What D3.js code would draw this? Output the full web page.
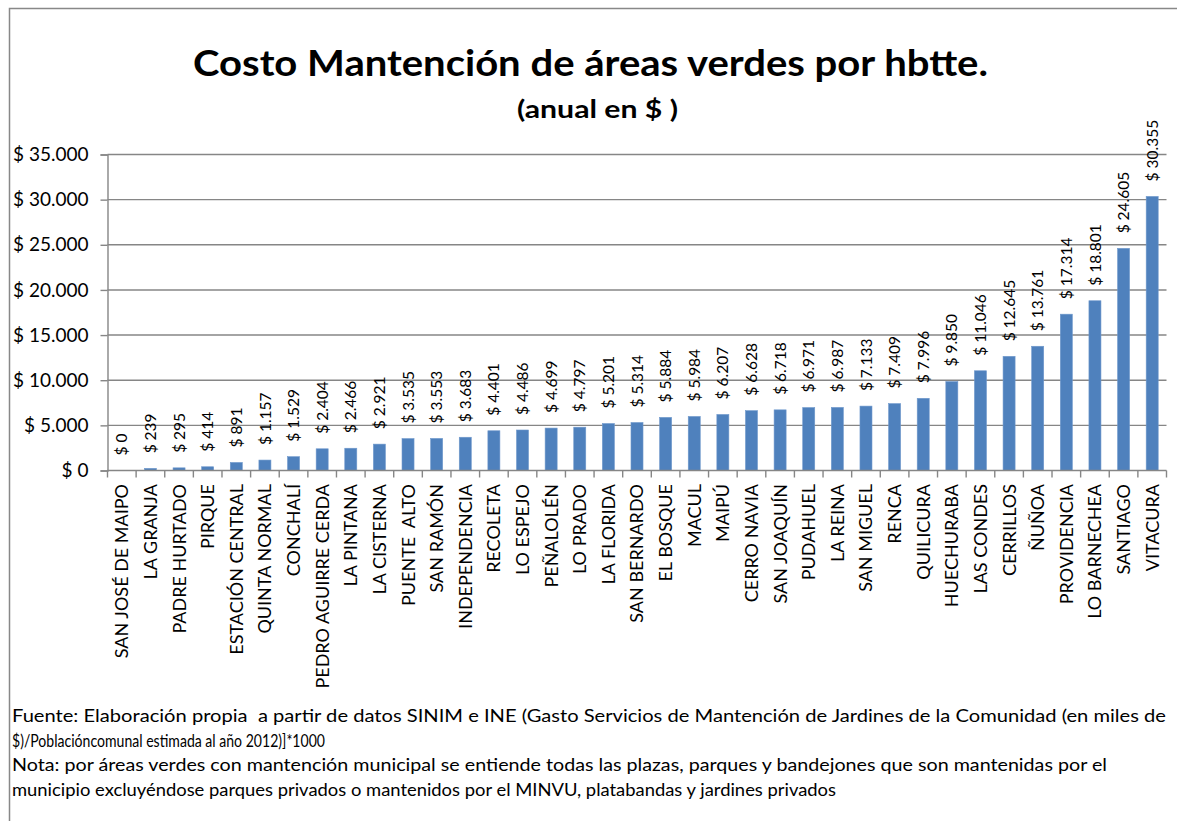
<!DOCTYPE html>
<html><head><meta charset="utf-8">
<script src="https://cdn.jsdelivr.net/npm/d3@7"></script>
<style>body{margin:0;background:#fff}svg{display:block}</style>
</head><body>
<script>
const categories = ["SAN JOSÉ DE MAIPO","LA GRANJA","PADRE HURTADO","PIRQUE","ESTACIÓN CENTRAL","QUINTA NORMAL","CONCHALÍ","PEDRO AGUIRRE CERDA","LA PINTANA","LA CISTERNA","PUENTE  ALTO","SAN RAMÓN","INDEPENDENCIA","RECOLETA","LO ESPEJO","PEÑALOLÉN","LO PRADO","LA FLORIDA","SAN BERNARDO","EL BOSQUE","MACUL","MAIPÚ","CERRO NAVIA","SAN JOAQUÍN","PUDAHUEL","LA REINA","SAN MIGUEL","RENCA","QUILICURA","HUECHURABA","LAS CONDES","CERRILLOS","ÑUÑOA","PROVIDENCIA","LO BARNECHEA","SANTIAGO","VITACURA"];
const values = [0,239,295,414,891,1157,1529,2404,2466,2921,3535,3553,3683,4401,4486,4699,4797,5201,5314,5884,5984,6207,6628,6718,6971,6987,7133,7409,7996,9850,11046,12645,13761,17314,18801,24605,30355];
const yTicks = [0,5000,10000,15000,20000,25000,30000,35000];
const title = "Costo Mantención de áreas verdes por hbtte.";
const subtitle = "(anual en $ )";
const notes = [
 "Fuente: Elaboración propia  a partir de datos SINIM e INE (Gasto Servicios de Mantención de Jardines de la Comunidad (en miles de",
 "$)/Poblacióncomunal estimada al año 2012)]*1000",
 "Nota: por áreas verdes con mantención municipal se entiende todas las plazas, parques y bandejones que son mantenidas por el",
 "municipio excluyéndose parques privados o mantenidos por el MINVU, platabandas y jardines privados"
];
const noteWidths = [1154, 313, 1095, 824];

const W = 1177, H = 821;
const svg = d3.select("body").append("svg").attr("width", W).attr("height", H)
  .style("font-family", "Lato, 'Open Sans', sans-serif");

// border (left + top)
svg.append("path").attr("d", `M9.5,${H} L9.5,8.5 L${W},8.5`).attr("fill","none").attr("stroke","#888").attr("stroke-width",1.5);

const fmt = v => "$ " + d3.format(",")(v).replace(/,/g, ".");

const x = d3.scaleBand().domain(categories).range([107.5, 1166.5]).paddingInner(0.58).paddingOuter(0.29);
const y = d3.scaleLinear().domain([0, 35000]).range([470.5, 154.5]);

// gridlines
svg.append("g").selectAll("line").data(yTicks.filter(d => d > 0)).join("line")
  .attr("x1", 107.5).attr("x2", 1166.5).attr("y1", d => y(d)).attr("y2", d => y(d))
  .attr("stroke", "#868686").attr("stroke-width", 1.4);

// y axis
const yAxis = svg.append("g").attr("transform", "translate(107.5,0)")
  .call(d3.axisLeft(y).tickValues(yTicks).tickFormat(fmt).tickSize(7).tickPadding(12));
yAxis.select(".domain").attr("stroke", "#868686").attr("stroke-width", 1.4);
yAxis.selectAll(".tick line").attr("stroke", "#868686").attr("stroke-width", 1.4);
yAxis.selectAll("text").attr("font-size", 19).attr("fill", "#000").attr("font-family", "Lato, sans-serif");

// bars
svg.append("g").selectAll("rect").data(values).join("rect")
  .attr("x", (d, i) => x(categories[i])).attr("width", x.bandwidth())
  .attr("y", d => y(d)).attr("height", d => y(0) - y(d))
  .attr("fill", "#4F81BD").attr("stroke", "#6f98cc").attr("stroke-width", 0.6);

// x axis
const step = x.step();
const xAxisG = svg.append("g");
xAxisG.append("line").attr("x1", 107.5).attr("x2", 1166.5).attr("y1", y(0)).attr("y2", y(0))
  .attr("stroke", "#868686").attr("stroke-width", 1.4);
xAxisG.selectAll(".tk").data(d3.range(categories.length + 1)).join("line").attr("class","tk")
  .attr("x1", i => x(categories[0]) - x.paddingOuter()*step + i*step)
  .attr("x2", i => x(categories[0]) - x.paddingOuter()*step + i*step)
  .attr("y1", y(0)).attr("y2", y(0) + 7).attr("stroke", "#868686").attr("stroke-width", 1.4);

// category labels
svg.append("g").selectAll("text").data(categories).join("text")
  .attr("transform", d => `translate(${x(d) + x.bandwidth()/2},484) rotate(-90)`)
  .attr("text-anchor", "end").attr("dy", "0.36em").style("white-space", "pre")
  .attr("font-size", 18).attr("fill", "#000").text(d => d);

// data labels
svg.append("g").selectAll("text").data(values).join("text")
  .attr("transform", (d, i) => `translate(${x(categories[i]) + x.bandwidth()/2},${y(d) - 15}) rotate(-90)`)
  .attr("text-anchor", "start").attr("dy", "0.36em")
  .attr("font-size", 15.5).attr("fill", "#000").text(d => fmt(d));

// title
svg.append("text").attr("x", 590.5).attr("y", 76).attr("text-anchor", "middle")
  .attr("font-size", 37).attr("font-weight", "bold").attr("textLength", 795).attr("lengthAdjust", "spacingAndGlyphs")
  .text(title);
svg.append("text").attr("x", 597.5).attr("y", 118).attr("text-anchor", "middle")
  .attr("font-size", 24).attr("font-weight", "bold").attr("textLength", 161).attr("lengthAdjust", "spacingAndGlyphs")
  .text(subtitle);

// notes
svg.append("g").selectAll("text").data(notes).join("text")
  .attr("x", 12).attr("y", (d, i) => 722 + i * 24.5).style("white-space", "pre")
  .attr("font-size", 16.5).attr("fill", "#000")
  .attr("textLength", (d, i) => noteWidths[i]).attr("lengthAdjust", "spacingAndGlyphs")
  .text(d => d);
</script>
</body></html>
